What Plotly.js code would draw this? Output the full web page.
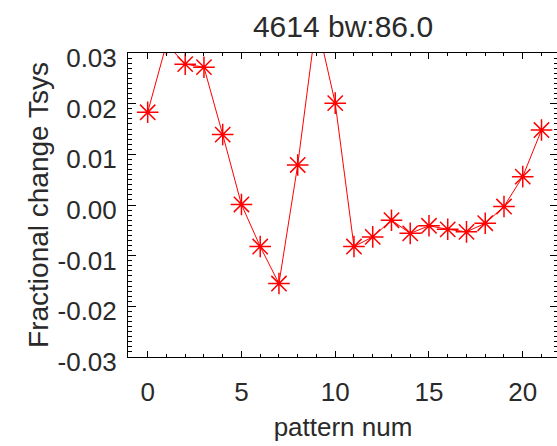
<!DOCTYPE html>
<html>
<head>
<meta charset="utf-8">
<script src="https://cdn.plot.ly/plotly-3.0.1.min.js"></script>
<style>
html, body { margin: 0; padding: 0; overflow: hidden; background: #fff; }
#chart { width: 560px; height: 446px; }
</style>
</head>
<body>
<div id="chart"></div>
<script>
// Data
const patternNum = [0, 1, 2, 3, 4, 5, 6, 7, 8, 9, 10, 11, 12, 13, 14, 15, 16, 17, 18, 19, 20, 21];
const fracChange = [0.0183, 0.0318, 0.0278, 0.0272, 0.0139, 0.0001, -0.0082, -0.0155, 0.0079, 0.0365,
                    0.0201, -0.0082, -0.0063, -0.0030, -0.0056, -0.0041, -0.0048, -0.0053, -0.0036, -0.0003,
                    0.0056, 0.0148];
const xTickVals = [0, 5, 10, 15, 20];
const xTickLabels = ["0", "5", "10", "15", "20"];
const yTickVals = [-0.03, -0.02, -0.01, 0.00, 0.01, 0.02, 0.03];
const yTickLabels = ["-0.03", "-0.02", "-0.01", "0.00", "0.01", "0.02", "0.03"];
const chartTitle = "4614 bw:86.0";
const xTitle = "pattern num";
const yTitle = "Fractional change Tsys";

const font = "Liberation Sans, Arial, Helvetica, sans-serif";
const textColor = "#2a2a2a";

const trace = {
  x: patternNum,
  y: fracChange,
  type: "scatter",
  mode: "lines+markers",
  line: { color: "#ff0000", width: 1 },
  marker: { symbol: "asterisk-open", size: 18, color: "#ff0000", line: { color: "#ff0000", width: 1.5 } },
  cliponaxis: true,
  hoverinfo: "skip"
};

const layout = {
  width: 560,
  height: 446,
  margin: { l: 128, r: 2, t: 53, b: 89, pad: 0 },
  paper_bgcolor: "#ffffff",
  plot_bgcolor: "#ffffff",
  showlegend: false,
  font: { family: font, color: textColor, size: 26 },
  title: {
    text: chartTitle,
    font: { family: font, size: 30, color: textColor },
    xref: "paper", x: 0.5, xanchor: "center",
    yref: "container", y: 1 - 26 / 446, yanchor: "middle"
  },
  xaxis: {
    range: [-1.05, 21.88],
    showgrid: false, zeroline: false,
    showline: true, linecolor: "#000", linewidth: 1, mirror: "ticks",
    ticks: "inside", ticklen: 6, tickwidth: 1, tickcolor: "#000",
    tickvals: xTickVals, ticktext: xTickLabels,
    tickfont: { family: font, size: 26, color: textColor },
    ticklabelstandoff: 12,
    minor: { ticks: "inside", ticklen: 3, tickwidth: 1, tickcolor: "#000", dtick: 1, showgrid: false },
    title: { text: xTitle, font: { family: font, size: 26, color: textColor }, standoff: 11 },
    automargin: false
  },
  yaxis: {
    range: [-0.03, 0.03],
    showgrid: false, zeroline: false,
    showline: true, linecolor: "#000", linewidth: 1, mirror: "ticks",
    ticks: "inside", ticklen: 8, tickwidth: 1, tickcolor: "#000",
    tickvals: yTickVals, ticktext: yTickLabels,
    tickfont: { family: font, size: 26, color: textColor },
    ticklabelstandoff: 5,
    ticklabelshift: 5,
    minor: { ticks: "inside", ticklen: 4, tickwidth: 1, tickcolor: "#000", dtick: 0.001, showgrid: false },
    title: { text: yTitle, font: { family: font, size: 28, color: textColor }, standoff: 0 },
    automargin: false
  }
};

Plotly.newPlot("chart", [trace], layout, { staticPlot: true, displayModeBar: false });
</script>
</body>
</html>
